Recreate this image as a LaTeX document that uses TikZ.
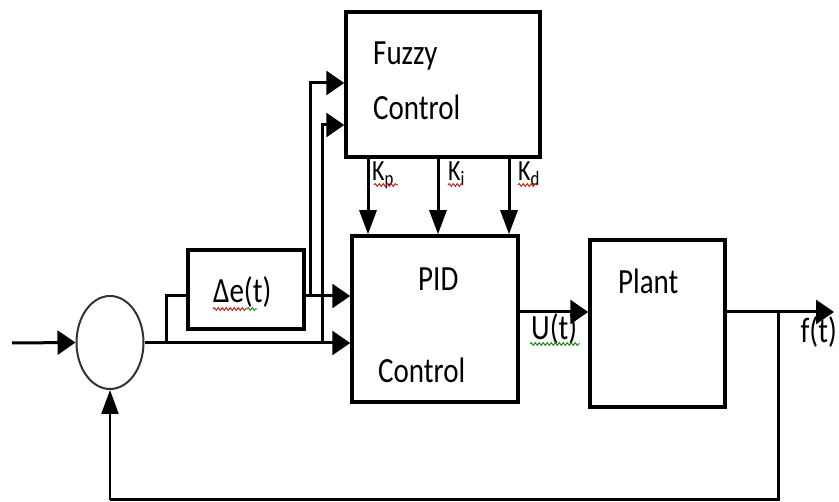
\documentclass[tikz,border=0pt]{standalone}
\usepackage{fontspec}
\setmainfont{Carlito}
\usetikzlibrary{arrows.meta,shapes.geometric,decorations.pathmorphing}
\definecolor{squigred}{RGB}{200,40,40}
\definecolor{squiggreen}{RGB}{40,140,40}
\newcommand{\stx}[1]{\scalebox{1}[1.22]{#1}}
\begin{document}
\begin{tikzpicture}[x=1pt,y=-1pt,
  box/.style={draw,line width=3.5pt,rectangle,inner sep=0},
  sumnode/.style={draw,ellipse,line width=2pt,draw=black!80,inner sep=0},
  lbl/.style={font=\fontsize{29}{32}\selectfont,inner sep=0},
  klbl/.style={font=\fontsize{24}{26}\selectfont,inner sep=0},
  wire/.style={line width=3pt},
  harr/.style={wire,-{Triangle[length=18pt,width=24pt]}},
  varr/.style={wire,-{Triangle[length=24pt,width=17pt]}},
  squig/.style={line width=1pt,decorate,decoration={snake,amplitude=1.4pt,segment length=4pt}}]
\useasboundingbox (0,0) rectangle (839,502);
% blocks
\node[box,minimum width=194pt,minimum height=145pt] (fuzzy) at (443,84.5) {};
\node[box,minimum width=116pt,minimum height=79pt] (delta) at (246,289.5) {};
\node[box,minimum width=166pt,minimum height=166pt] (pid) at (435,319) {};
\node[box,minimum width=135pt,minimum height=167pt] (plant) at (657.5,323.5) {};
\node[sumnode,minimum width=67pt,minimum height=93pt] (sum) at (110,342.5) {};
% texts
\node[lbl,anchor=base west] (tfz) at (373,65) {\stx{Fuzzy}};
\node[lbl,anchor=base west] (tfc) at (373,120) {\stx{Control}};
\node[lbl,anchor=base west] (tpid) at (418,291) {\stx{PID}};
\node[lbl,anchor=base west] (tpc) at (378,383) {\stx{Control}};
\node[lbl,anchor=base west] (tpl) at (618,294) {\stx{Plant}};
\node[lbl,anchor=base west] (tde) at (213,303) {\stx{Δe(t)}};
\node[lbl,anchor=base west] (tu) at (531,340) {\stx{U(t)}};
\node[lbl,anchor=base east] (tf) at (837,343) {\stx{f(t)}};
\node[klbl,anchor=base west] (tkp) at (372,181) {\stx{K\textsubscript{p}}};
\node[klbl,anchor=base west] (tki) at (448,181) {\stx{K\textsubscript{i}}};
\node[klbl,anchor=base west] (tkd) at (518,181) {\stx{K\textsubscript{d}}};
% spell-check squiggles
\draw[squig,squigred] (213,309) -- (247,309);
\draw[squig,squiggreen] (247,309) -- (257,309);
\draw[squig,squiggreen] (530,344) -- (580,344);
\draw[squig,squigred] (374,185) -- (398,185);
\draw[squig,squigred] (448,185) -- (463,185);
\draw[squig,squigred] (518,185) -- (537,185);
% helper coordinates
\coordinate (in) at (12,343);
\coordinate (j1) at (166,343);
\coordinate (j2) at (310,296);
\coordinate (j3) at (322,343);
\coordinate (j4) at (778,312);
\coordinate (out) at (834,312);
\coordinate (yU) at (0,296);
\coordinate (yM) at (0,343);
\coordinate (yF1) at (0,83);
\coordinate (yF2) at (0,125);
\coordinate (yO) at (0,312);
\coordinate (yB) at (0,500);
\coordinate (xK1) at (368,0);
\coordinate (xK2) at (438,0);
\coordinate (xK3) at (509,0);
% connectors
\draw[harr] (in) -- (sum.west);
\draw[harr] (sum.east |- yM) -- (pid.west |- yM);
\draw[wire] (j1) |- (delta.west |- yU);
\draw[harr] (delta.east |- yU) -- (pid.west |- yU);
\draw[harr] (j2) |- (fuzzy.west |- yF1);
\draw[harr] (j3) |- (fuzzy.west |- yF2);
\draw[varr] (fuzzy.south -| xK1) -- (pid.north -| xK1);
\draw[varr] (fuzzy.south -| xK2) -- (pid.north -| xK2);
\draw[varr] (fuzzy.south -| xK3) -- (pid.north -| xK3);
\draw[harr] (pid.east |- yO) -- (plant.west |- yO);
\draw[harr] (plant.east |- yO) -- (out);
\draw[wire] (j4) |- (sum.south |- yB);
\draw[line width=2.2pt,-{Triangle[length=24pt,width=17pt]}] (sum.south |- yB) -- (sum.south);
\end{tikzpicture}
\end{document}
